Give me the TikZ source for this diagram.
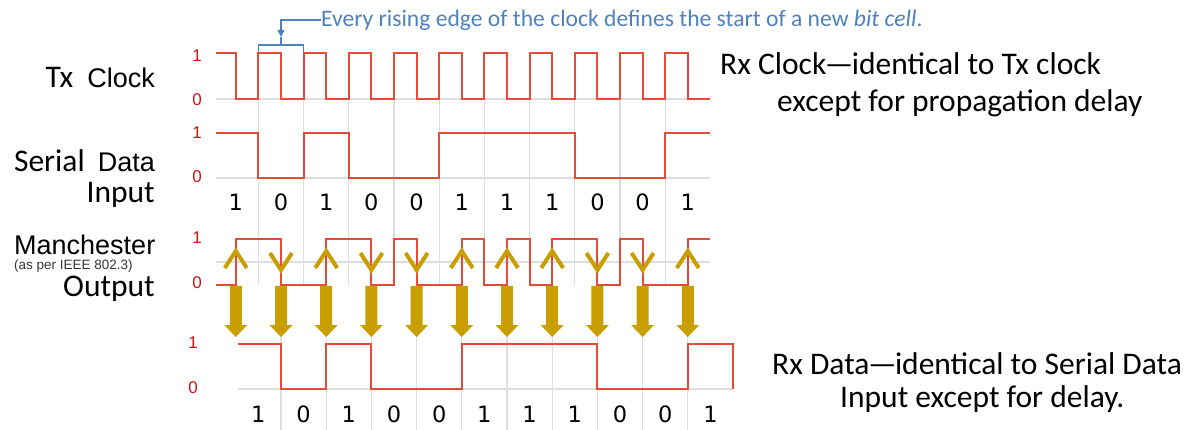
\documentclass[tikz,border=0pt]{standalone}
\usepackage{fontspec}
\newfontfamily\calfont{Carlito}
\newfontfamily\arlfont{Liberation Sans}
\newfontfamily\dvfont{DejaVu Sans}
\usetikzlibrary{arrows.meta}
\definecolor{wave}{RGB}{228,76,56}
\definecolor{lvlred}{RGB}{205,20,20}
\definecolor{gridc}{RGB}{222,222,222}
\definecolor{gold}{RGB}{200,158,0}
\definecolor{note}{RGB}{79,129,189}
\newcommand{\tdash}{\kern-1.5pt—\kern-1.5pt}
\tikzset{
  wavey/.style={draw=wave, line width=2pt, line join=miter},
  gridln/.style={draw=gridc, line width=1.3pt},
  lvllab/.style={text=lvlred, font=\arlfont\fontsize{17}{17}\selectfont, inner sep=0pt},
  bigcal/.style={font=\calfont\fontsize{31.5}{36}\selectfont, inner sep=0pt},
  digit/.style={font=\dvfont\fontsize{22.5}{22.5}\selectfont, inner sep=0pt},
  chev/.style={draw=gold, line width=4pt, line join=miter},
  notetext/.style={text=note, font=\calfont\fontsize{23.6}{26}\selectfont, inner sep=0pt},
  noteline/.style={draw=note, line width=1.3pt}
}
\begin{document}
\begin{tikzpicture}[x=1pt,y=-1pt]
\useasboundingbox (0,0) rectangle (1199,430);
% grid
\draw[gridln] (216,99) -- (710,99);
\draw[gridln] (216,178) -- (710,178);
\draw[gridln] (216,262) -- (710,262);
\draw[gridln] (238,389) -- (733,389);
\foreach \k in {1,...,10} {
  \draw[gridln] ({213.2+45.2*\k},99) -- ({213.2+45.2*\k},285);
  \draw[gridln] ({235.8+45.2*\k},300) -- ({235.8+45.2*\k},430);
}
% Tx clock
\draw[wavey] (216,53) \foreach \k in {0,...,9} { -- ({235.8+45.2*\k},53) -- ({235.8+45.2*\k},99) -- ({258.4+45.2*\k},99) -- ({258.4+45.2*\k},53) } -- (687.8,53) -- (687.8,99) -- (710,99);
% serial data
\draw[wavey] (216,133) \foreach \pb/\b [count=\k] in {1/0,0/1,1/0,0/0,0/1,1/1,1/1,1/0,0/0,0/1} { -- ({213.2+45.2*\k},{178-45*\pb}) -- ({213.2+45.2*\k},{178-45*\b}) } -- (710,133);
% manchester
\draw[wavey] (216,285) -- (235.8,285) -- (235.8,239) \foreach \pb/\b [count=\k] in {1/0,0/1,1/0,0/0,0/1,1/1,1/1,1/0,0/0,0/1} { -- ({213.2+45.2*\k},{285-46*\pb}) -- ({213.2+45.2*\k},{239+46*\b}) -- ({235.8+45.2*\k},{239+46*\b}) -- ({235.8+45.2*\k},{285-46*\b}) } -- (710,239);
% rx data
\draw[wavey] (238,344) \foreach \pb/\b [count=\k] in {1/0,0/1,1/0,0/0,0/1,1/1,1/1,1/0,0/0,0/1} { -- ({235.8+45.2*\k},{389-45*\pb}) -- ({235.8+45.2*\k},{389-45*\b}) } -- (733,344) -- (733,389);
% chevrons, arrows, digits
\foreach \b [count=\k from 0] in {1,0,1,0,0,1,1,1,0,0,1} {
  \pgfmathsetmacro\xx{235.8+45.2*\k}
  \ifnum\b=1
    \draw[chev] ({\xx-11},268) -- (\xx,251) -- ({\xx+11},268);
  \else
    \draw[chev] ({\xx-11},253) -- (\xx,270) -- ({\xx+11},253);
  \fi
  \fill[gold] ({\xx-6},286) -- ({\xx+6},286) -- ({\xx+6},325) -- ({\xx+11.5},325) -- (\xx,337) -- ({\xx-11.5},325) -- ({\xx-6},325) -- cycle;
  \node[digit] (d\k) at (\xx,202) {\b};
  \node[digit] (r\k) at ({\xx+22.6},414) {\b};
}
% level labels
\node[lvllab] (c1) at (197,56) {1};
\node[lvllab] (c0) at (197,100) {0};
\node[lvllab] (s1) at (197,133) {1};
\node[lvllab] (s0) at (197,177) {0};
\node[lvllab] (m1) at (197,238) {1};
\node[lvllab] (m0) at (197,283) {0};
\node[lvllab] (x1) at (193,343) {1};
\node[lvllab] (x0) at (193,388) {0};
% left labels
\node[bigcal, anchor=base east] (txclk) at (155,88) {Tx\hspace{14pt}{\arlfont\fontsize{27}{30}\selectfont Clock}};
\node[bigcal, anchor=base east] (serial) at (155,172) {Serial\hspace{13pt}{\arlfont\fontsize{27}{30}\selectfont Data}};
\node[bigcal, anchor=base east] (input) at (155,203) {Input};
\node[font=\arlfont\fontsize{27}{30}\selectfont, inner sep=0pt, anchor=base west] (manch) at (14,255) {Manchester};
\node[font=\arlfont\fontsize{13.5}{15}\selectfont, text=black!80, inner sep=0pt, anchor=base west] (ieee) at (14,270) {(as per IEEE 802.3)};
\node[bigcal, anchor=base east] (output) at (155,297) {Output};
% right labels
\node[bigcal, anchor=base west] (rxc1) at (720,75) {Rx Clock\tdash identical to Tx clock};
\node[bigcal, anchor=base west] (rxc2) at (777,112) {except for propagation delay};
\node[bigcal, anchor=base west] (rxd1) at (772,374) {Rx Data\tdash identical to Serial Data};
\node[bigcal, anchor=base west] (rxd2) at (840,407) {Input except for delay.};
% annotation
\node[notetext, anchor=base west] (ann) at (321,27) {Every rising edge of the clock defines the start of a new \textit{bit cell}.};
\coordinate (ah) at (281,37);
\coordinate (bm) at (281,45);
\draw[noteline, -{Triangle[width=7pt,length=7pt]}] (ann.west |- 0,20) -| (ah);
\draw[noteline] (ah) -- (bm);
\draw[noteline] (258.4,52) -- (258.4,45) -- (303.6,45) -- (303.6,52);
\end{tikzpicture}
\end{document}
